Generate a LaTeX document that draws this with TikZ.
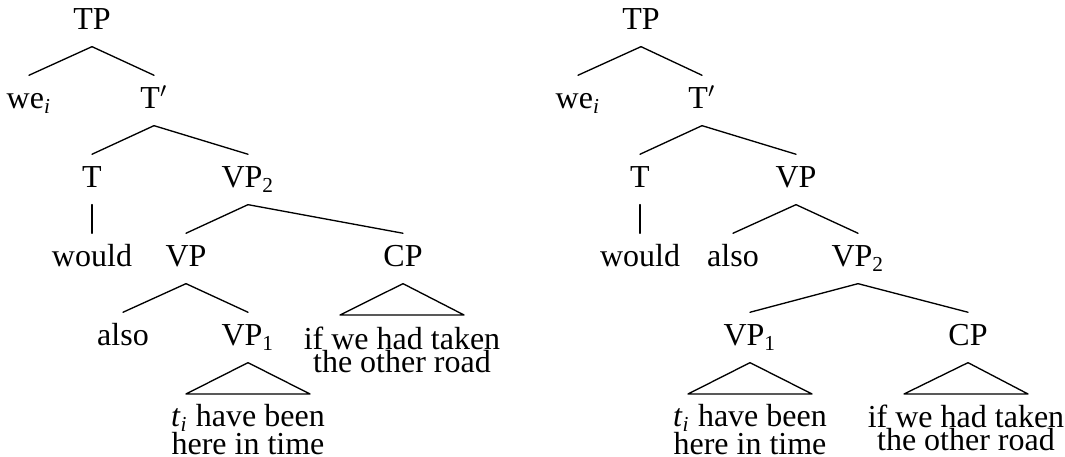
\documentclass[tikz,border=0pt,12pt]{standalone}
\usepackage{fontspec}
\setmainfont{Liberation Serif}
\newcommand{\idx}[1]{\textsubscript{#1}}
\newcommand{\twoline}[2]{\vbox{\baselineskip=0pt\lineskip=0.3pt\lineskiplimit=0pt
  \halign{\hfil##\hfil\cr #1\cr #2\cr}}}
\begin{document}
\begin{tikzpicture}[x=0.375pt, y=-0.375pt, line join=round, line cap=round, line width=0.5pt]
 \tikzset{cat/.style={anchor=base, inner xsep=1pt, inner ysep=3pt, text height=9.4pt, text depth=3pt},
   phrase/.style={anchor=north, inner sep=0pt}}
 \useasboundingbox (0,0) rectangle (1065,457);
 % left tree
 \node[cat] (tpL) at (92,30) {TP};
 \node[cat] (weL) at (29,109) {we\idx{\textit{i}}};
 \node[cat] (tbarL) at (154,109) {T$'$};
 \node[cat] (tL) at (92,188) {T};
 \node[cat] (vp2L) at (248,188) {VP\idx{2}};
 \node[cat] (wouldL) at (92,267) {would};
 \node[cat] (vpL) at (186,267) {VP};
 \node[cat] (cpL) at (403,267) {CP};
 \node[cat] (alsoL) at (123,346) {also};
 \node[cat] (vp1L) at (248,346) {VP\idx{1}};
 \node[phrase] (vp1txtL) at (248,404) {\twoline{\textit{t}\idx{\textit{i}} have been}{here in time}};
 \node[phrase] (cptxtL) at (402,326) {\twoline{if we had taken}{the other road}};
 \draw (tpL.south) -- (weL.north);
 \draw (tpL.south) -- (tbarL.north);
 \draw (tbarL.south) -- (tL.north);
 \draw (tbarL.south) -- (vp2L.north);
 \draw (tL.south) -- (wouldL.north);
 \draw (vp2L.south) -- (vpL.north);
 \draw (vp2L.south) -- (cpL.north);
 \draw (vpL.south) -- (alsoL.north);
 \draw (vpL.south) -- (vp1L.north);
 \draw (vp1L.south) -- ([shift={(-62,-10)}]vp1txtL.north) -- ([shift={(62,-10)}]vp1txtL.north) -- cycle;
 \draw (cpL.south) -- ([shift={(-62,-11)}]cptxtL.north) -- ([shift={(62,-11)}]cptxtL.north) -- cycle;
 % right tree
 \node[cat] (tpR) at (641,30) {TP};
 \node[cat] (weR) at (578,109) {we\idx{\textit{i}}};
 \node[cat] (tbarR) at (702,109) {T$'$};
 \node[cat] (tR) at (640,188) {T};
 \node[cat] (vpR) at (796,188) {VP};
 \node[cat] (wouldR) at (640,267) {would};
 \node[cat] (alsoR) at (733,267) {also};
 \node[cat] (vp2R) at (858,267) {VP\idx{2}};
 \node[cat] (vp1R) at (750,346) {VP\idx{1}};
 \node[cat] (cpR) at (968,346) {CP};
 \node[phrase] (vp1txtR) at (750,404) {\twoline{\textit{t}\idx{\textit{i}} have been}{here in time}};
 \node[phrase] (cptxtR) at (966,404) {\twoline{if we had taken}{the other road}};
 \draw (tpR.south) -- (weR.north);
 \draw (tpR.south) -- (tbarR.north);
 \draw (tbarR.south) -- (tR.north);
 \draw (tbarR.south) -- (vpR.north);
 \draw (tR.south) -- (wouldR.north);
 \draw (vpR.south) -- (alsoR.north);
 \draw (vpR.south) -- (vp2R.north);
 \draw (vp2R.south) -- (vp1R.north);
 \draw (vp2R.south) -- (cpR.north);
 \draw (vp1R.south) -- ([shift={(-62,-10)}]vp1txtR.north) -- ([shift={(62,-10)}]vp1txtR.north) -- cycle;
 \draw (cpR.south) -- ([shift={(-62,-10)}]cptxtR.north) -- ([shift={(62,-10)}]cptxtR.north) -- cycle;
\end{tikzpicture}
\end{document}
